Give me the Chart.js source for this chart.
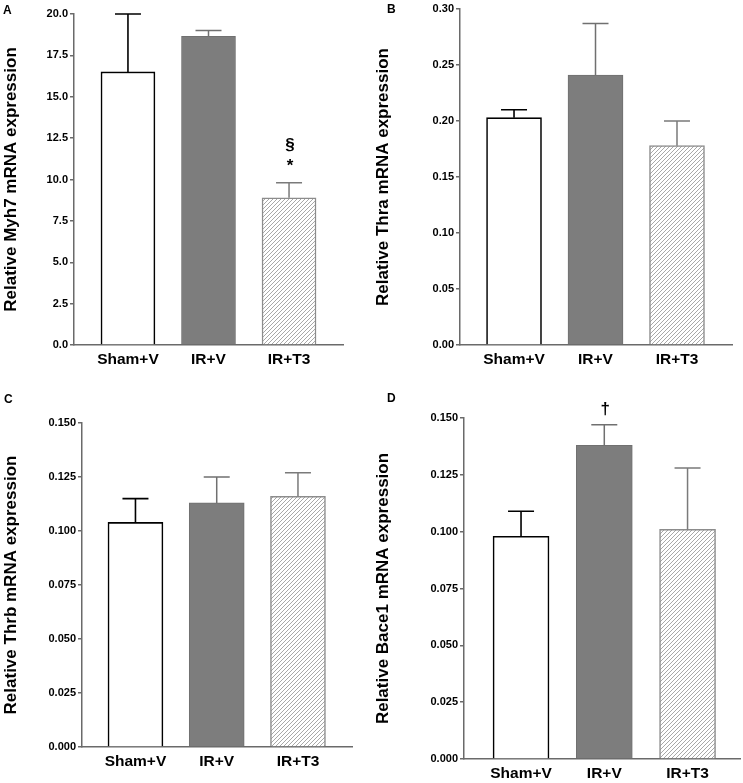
<!DOCTYPE html>
<html>
<head>
<meta charset="utf-8">
<script src="https://cdn.jsdelivr.net/npm/chart.js@4.4.0/dist/chart.umd.min.js"></script>
<style>
  html, body { margin: 0; padding: 0; background: #fff; }
  #wrap { position: relative; width: 743px; height: 783px; }
  canvas { position: absolute; }
  .letter { position: absolute; font: bold 12px "Liberation Sans", Arial, sans-serif; color: #000; }
</style>
</head>
<body>
<div id="wrap">
  <canvas id="chartA" width="372" height="390" style="left:0;top:0"></canvas>
  <canvas id="chartB" width="371" height="390" style="left:372px;top:0"></canvas>
  <canvas id="chartC" width="372" height="393" style="left:0;top:390px"></canvas>
  <canvas id="chartD" width="371" height="393" style="left:372px;top:390px"></canvas>
  <div class="letter" style="left:3px;top:3px">A</div>
  <div class="letter" style="left:387px;top:2px">B</div>
  <div class="letter" style="left:4px;top:392px">C</div>
  <div class="letter" style="left:387px;top:391px">D</div>
</div>
<script>
// groups on the x axis
const groups = ['Sham+V', 'IR+V', 'IR+T3'];

// A - Myh7
const myh7Mean = [16.5, 18.65, 8.9];
const myh7Err = [3.5, 0.35, 0.9];
const myh7Ticks = [0, 2.5, 5.0, 7.5, 10.0, 12.5, 15.0, 17.5, 20.0];
const myh7Marks = [[], [], ['*', '§']];

// B - Thra
const thraMean = [0.203, 0.241, 0.178];
const thraErr = [0.007, 0.046, 0.022];
const thraTicks = [0, 0.05, 0.10, 0.15, 0.20, 0.25, 0.30];

// C - Thrb
const thrbMean = [0.104, 0.113, 0.116];
const thrbErr = [0.011, 0.012, 0.011];
const thrbTicks = [0, 0.025, 0.050, 0.075, 0.100, 0.125, 0.150];

// D - Bace1
const bace1Mean = [0.098, 0.138, 0.101];
const bace1Err = [0.011, 0.009, 0.027];
const bace1Ticks = [0, 0.025, 0.050, 0.075, 0.100, 0.125, 0.150];
const bace1Marks = [[], ['†'], []];

const FONT = '"Liberation Sans", Arial, sans-serif';
const AXIS = '#6a6a6a';

// diagonal hatch used for the IR+T3 bars
function makeHatch() {
    const c = document.createElement('canvas');
    c.width = 4; c.height = 4;
    const g = c.getContext('2d');
    g.fillStyle = '#fff';
    g.fillRect(0, 0, 4, 4);
    g.strokeStyle = '#a8a8a8';
    g.lineWidth = 1;
    g.beginPath();
    g.moveTo(0, 4); g.lineTo(4, 0);
    g.moveTo(-1, 1); g.lineTo(1, -1);
    g.moveTo(3, 5); g.lineTo(5, 3);
    g.stroke();
    return g.createPattern(c, 'repeat');
}

// error bars (upper only) and significance marks
const errorBarPlugin = {
    id: 'errorBars',
    afterDatasetsDraw(chart, args, opts) {
        const ctx = chart.ctx;
        const meta = chart.getDatasetMeta(0);
        const yScale = chart.scales.y;
        const ds = chart.data.datasets[0];
        meta.data.forEach((bar, i) => {
            const top = yScale.getPixelForValue(ds.data[i].y + opts.errors[i]);
            const half = 13;
            ctx.save();
            ctx.strokeStyle = opts.colors[i];
            ctx.lineWidth = opts.widths[i];
            ctx.beginPath();
            ctx.moveTo(bar.x, bar.y);
            ctx.lineTo(bar.x, top);
            ctx.moveTo(bar.x - half, top);
            ctx.lineTo(bar.x + half, top);
            ctx.stroke();
            const marks = (opts.marks || [])[i] || [];
            ctx.fillStyle = '#000';
            ctx.font = 'bold 17px ' + FONT;
            ctx.textAlign = 'center';
            ctx.textBaseline = 'middle';
            marks.forEach((m, k) => {
                ctx.fillText(m, bar.x + 1, top - 16 - k * 21);
            });
            ctx.restore();
        });
    }
};

function makeChart(id, title, means, errs, ticks, decimals, marks, box) {
    const ctx = document.getElementById(id).getContext('2d');
    const hatch = makeHatch();
    return new Chart(ctx, {
        type: 'bar',
        data: {
            datasets: [{
                data: means.map((v, i) => ({ x: i + 1, y: v })),
                backgroundColor: ['#ffffff', '#7d7d7d', hatch],
                borderColor: ['#000000', '#707070', '#8c8c8c'],
                borderWidth: [1.6, 1, 1.5],
                barThickness: box.bar
            }]
        },
        options: {
            responsive: false,
            animation: false,
            layout: { padding: { top: box.top, right: box.right, bottom: 0, left: 0 } },
            plugins: {
                legend: { display: false },
                tooltip: { enabled: false },
                errorBars: {
                    errors: errs,
                    marks: marks,
                    colors: ['#000000', '#707070', '#7a7a7a'],
                    widths: [1.6, 1.5, 1.5]
                }
            },
            scales: {
                x: {
                    type: 'linear',
                    offset: false,
                    min: box.xmin,
                    max: box.xmax,
                    afterBuildTicks: s => { s.ticks = groups.map((g, i) => ({ value: i + 1 })); },
                    afterFit: s => { s.height = box.xh; },
                    ticks: {
                        callback: v => groups[v - 1],
                        color: '#000',
                        font: { family: FONT, size: 15.5, weight: 'bold' },
                        padding: 5,
                        maxRotation: 0,
                        autoSkip: false
                    },
                    grid: { offset: false, drawOnChartArea: false, drawTicks: false },
                    border: { color: AXIS, width: 1.5 }
                },
                y: {
                    min: 0,
                    max: ticks[ticks.length - 1],
                    afterBuildTicks: s => { s.ticks = ticks.map(v => ({ value: v })); },
                    afterFit: s => { s.width = box.yw; },
                    ticks: {
                        callback: v => v.toFixed(decimals),
                        color: '#000',
                        font: { family: FONT, size: 11, weight: 'bold' },
                        padding: 2
                    },
                    grid: { drawOnChartArea: false, drawTicks: true, tickLength: 4, color: AXIS, lineWidth: 1.5 },
                    border: { color: AXIS, width: 1.5 },
                    title: {
                        display: true,
                        text: title,
                        color: '#000',
                        font: { family: FONT, size: 17, weight: 'bold' },
                        padding: { top: 1, bottom: 0 }
                    }
                }
            }
        },
        plugins: [errorBarPlugin]
    });
}

makeChart('chartA', 'Relative Myh7 mRNA expression', myh7Mean, myh7Err, myh7Ticks, 1, myh7Marks,
    { yw: 74, right: 29, top: 14, xh: 45, xmin: 0.33, xmax: 3.67, bar: 54 });
makeChart('chartB', 'Relative Thra mRNA expression', thraMean, thraErr, thraTicks, 2, [],
    { yw: 88, right: 11, top: 9, xh: 45, xmin: 0.337, xmax: 3.675, bar: 55 });
makeChart('chartC', 'Relative Thrb mRNA expression', thrbMean, thrbErr, thrbTicks, 3, [],
    { yw: 82, right: 20, top: 33, xh: 36, xmin: 0.342, xmax: 3.665, bar: 55 });
makeChart('chartD', 'Relative Bace1 mRNA expression', bace1Mean, bace1Err, bace1Ticks, 3, bace1Marks,
    { yw: 92, right: 3, top: 28, xh: 24, xmin: 0.315, xmax: 3.63, bar: 56 });
</script>
</body>
</html>
